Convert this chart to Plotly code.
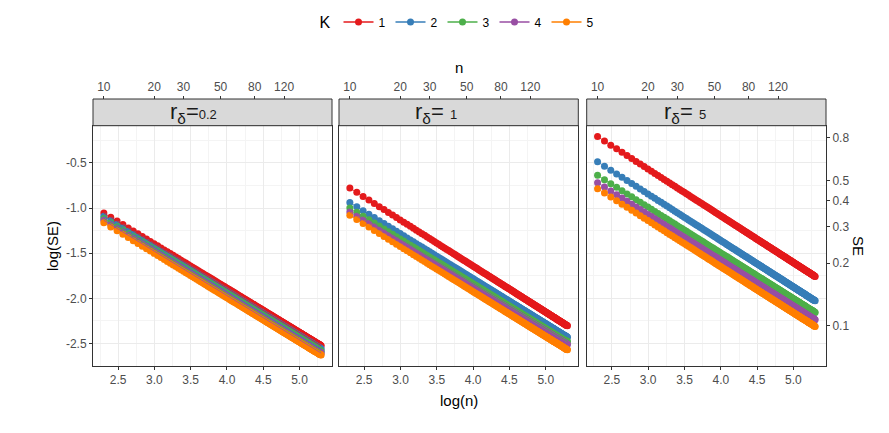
import numpy as np
import plotly.graph_objects as go

# ---------------- data ----------------
K_values = [1, 2, 3, 4, 5]
K_colors = ["#E41A1C", "#377EB8", "#4DAF4A", "#984EA3", "#FF7F00"]
r_delta_labels = ["0.2", "1", "5"]
n_values = list(range(10, 201))

# log(SE) read at n = 10 and n = 200 for each K (K = 1..5); the series are straight lines in log(n)
logse_n10_r02 = [-1.054, -1.090, -1.115, -1.135, -1.162]
logse_n200_r02 = [-2.524, -2.560, -2.585, -2.605, -2.628]
logse_n10_r1 = [-0.777, -0.937, -0.999, -1.043, -1.080]
logse_n200_r1 = [-2.304, -2.430, -2.478, -2.510, -2.570]
logse_n10_r5 = [-0.208, -0.486, -0.637, -0.718, -0.785]
logse_n200_r5 = [-1.757, -2.027, -2.156, -2.237, -2.311]

bottom_ticks = [2.5, 3.0, 3.5, 4.0, 4.5, 5.0]
bottom_minor = [2.25, 2.75, 3.25, 3.75, 4.25, 4.75, 5.25]
left_ticks = [-0.5, -1.0, -1.5, -2.0, -2.5]
left_minor = [-0.25, -0.75, -1.25, -1.75, -2.25]
top_n_ticks = [10, 20, 30, 50, 80, 120]
right_se_ticks = [0.8, 0.5, 0.4, 0.3, 0.2, 0.1]

# ---------------- geometry (screen pixels; page body has an 8px margin) ----------------
OFF = 8
SW, SH = 889, 433
W, H = SW - OFF, SH - OFF
L_px, R_px, T_px, B_px = 93, 826, 99, 366       # screen coords of outer panel box
ml, mr, mt, mb = L_px - OFF, SW - R_px, T_px - OFF, SH - B_px
pw, ph = W - ml - mr, H - mt - mb
strip_h = 26.7
ydom_top = (ph - strip_h) / ph
panels_px = [(93, 332), (339, 578.3), (586.7, 826)]
xdoms = [[max(0, (a - L_px) / pw), min(1, (b - L_px) / pw)] for a, b in panels_px]


def pxx(px):
    return (px - L_px) / pw


def pxy(py):
    return (B_px - py) / ph


panel_data = [
    (logse_n10_r02, logse_n200_r02),
    (logse_n10_r1, logse_n200_r1),
    (logse_n10_r5, logse_n200_r5),
]

logn = np.log(np.array(n_values, dtype=float))
x0, x1 = np.log(10.0), np.log(200.0)
xr = [2.153, 5.448]
yr = [-2.749, -0.087]

fig = go.Figure()
for p, (start, end) in enumerate(panel_data):
    xa = "x" if p == 0 else f"x{p + 1}"
    ya = "y" if p == 0 else f"y{p + 1}"
    series = []
    for k in range(5):
        y = start[k] + (end[k] - start[k]) * (logn - x0) / (x1 - x0)
        series.append(y)
    # points first
    for k in range(5):
        fig.add_trace(go.Scatter(
            x=logn, y=series[k], mode="markers", xaxis=xa, yaxis=ya,
            marker=dict(size=7, color=K_colors[k], line=dict(width=0)),
            showlegend=False, hoverinfo="skip"))
    # lines on top
    for k in range(5):
        fig.add_trace(go.Scatter(
            x=logn, y=series[k], mode="lines", xaxis=xa, yaxis=ya,
            line=dict(width=0.8, color=K_colors[k]),
            showlegend=False, hoverinfo="skip"))

# legend entries
for k in range(5):
    fig.add_trace(go.Scatter(
        x=[None], y=[None], mode="lines+markers", name=str(K_values[k]),
        line=dict(color=K_colors[k], width=1.5),
        marker=dict(color=K_colors[k], size=7)))

font_family = "Liberation Sans, Arial, sans-serif"
tick_font = dict(family=font_family, size=12, color="#4D4D4D")
grid_major = "#EBEBEB"
grid_minor = "#F4F4F4"

layout = dict(
    width=W, height=H,
    margin=dict(l=ml, r=mr, t=mt, b=mb, pad=0, autoexpand=False),
    paper_bgcolor="white", plot_bgcolor="white",
    font=dict(family=font_family, color="#000000"),
    legend=dict(orientation="h", x=pxx(458), xanchor="center", y=pxy(23), yanchor="middle",
                title=dict(text="K", font=dict(size=16, family=font_family)),
                font=dict(size=12, family=font_family), itemwidth=30, tracegroupgap=0,
                bgcolor="rgba(0,0,0,0)"),
    showlegend=True,
)

for p in range(3):
    sfx = "" if p == 0 else str(p + 1)
    layout["xaxis" + sfx] = dict(
        domain=xdoms[p], range=xr, anchor="y" + sfx,
        tickmode="array", tickvals=bottom_ticks,
        ticktext=[f"{v:.1f}" for v in bottom_ticks],
        ticks="outside", ticklen=3, tickcolor="#333333", tickwidth=1,
        tickfont=tick_font,
        showgrid=True, gridcolor=grid_major, gridwidth=1,
        minor=dict(tickmode="array", tickvals=bottom_minor, showgrid=True,
                   gridcolor=grid_minor, gridwidth=0.7, ticks=""),
        showline=True, mirror=True, linecolor="#333333", linewidth=1,
        zeroline=False, fixedrange=True,
    )
    layout["yaxis" + sfx] = dict(
        domain=[0, ydom_top], range=yr, anchor="x" + sfx,
        tickmode="array", tickvals=left_ticks,
        ticktext=[f"{v:.1f}" for v in left_ticks],
        ticks="outside" if p == 0 else "", ticklen=3, tickcolor="#333333",
        showticklabels=(p == 0), tickfont=tick_font,
        showgrid=True, gridcolor=grid_major, gridwidth=1,
        minor=dict(tickmode="array", tickvals=left_minor, showgrid=True,
                   gridcolor=grid_minor, gridwidth=0.7, ticks=""),
        showline=True, mirror=True, linecolor="#333333", linewidth=1,
        zeroline=False, fixedrange=True,
    )
    # top secondary axis (n)
    layout["xaxis" + str(p + 4)] = dict(
        overlaying="x" + sfx, side="top", anchor="free", position=1.0,
        range=xr, tickmode="array", tickvals=[float(np.log(v)) for v in top_n_ticks],
        ticktext=[str(v) for v in top_n_ticks],
        ticks="outside", ticklen=3, tickcolor="#333333", tickfont=tick_font,
        showgrid=False, showline=False, zeroline=False, fixedrange=True,
    )

# right secondary axis (SE)
layout["yaxis4"] = dict(
    overlaying="y3", side="right", anchor="x3", range=yr,
    tickmode="array", tickvals=[float(np.log(v)) for v in right_se_ticks],
    ticktext=[str(v) for v in right_se_ticks],
    ticks="outside", ticklen=3, tickcolor="#333333", tickfont=tick_font,
    showgrid=False, showline=False, zeroline=False, fixedrange=True,
)

fig.update_layout(**layout)

# empty traces so the secondary axes are drawn
for ax, yy in [("x4", "y"), ("x5", "y2"), ("x6", "y3")]:
    fig.add_trace(go.Scatter(x=[None], y=[None], xaxis=ax, yaxis=yy, showlegend=False, hoverinfo="skip"))
fig.add_trace(go.Scatter(x=[None], y=[None], xaxis="x3", yaxis="y4", showlegend=False, hoverinfo="skip"))

# strips
strip_starts = [168, 413, 662]
for p in range(3):
    fig.add_shape(type="rect", xref="paper", yref="paper",
                  x0=xdoms[p][0], x1=xdoms[p][1], y0=ydom_top, y1=1.0,
                  fillcolor="#D9D9D9", line=dict(color="#333333", width=1), layer="above")
    sep = "=" if p == 0 else "= "
    fig.add_annotation(
        xref="paper", yref="paper", x=pxx(strip_starts[p]), y=pxy(113), xanchor="left", yanchor="middle",
        text=f"r<sub>δ</sub>{sep}<span style='font-size:13px'>{r_delta_labels[p]}</span>",
        showarrow=False, font=dict(size=22, family=font_family, color="#1A1A1A"))

# axis titles
title_font = dict(family=font_family, size=15, color="#000000")
fig.add_annotation(xref="paper", yref="paper", x=pxx(459), y=pxy(400), text="log(n)",
                   showarrow=False, font=title_font, xanchor="center", yanchor="middle")
fig.add_annotation(xref="paper", yref="paper", x=pxx(459), y=pxy(68), text="n",
                   showarrow=False, font=title_font, xanchor="center", yanchor="middle")
fig.add_annotation(xref="paper", yref="paper", x=pxx(52), y=pxy(246), text="log(SE)", textangle=-90,
                   showarrow=False, font=title_font, xanchor="center", yanchor="middle")
fig.add_annotation(xref="paper", yref="paper", x=pxx(859), y=pxy(246), text="SE", textangle=90,
                   showarrow=False, font=title_font, xanchor="center", yanchor="middle")

fig.write_html("out.html")
